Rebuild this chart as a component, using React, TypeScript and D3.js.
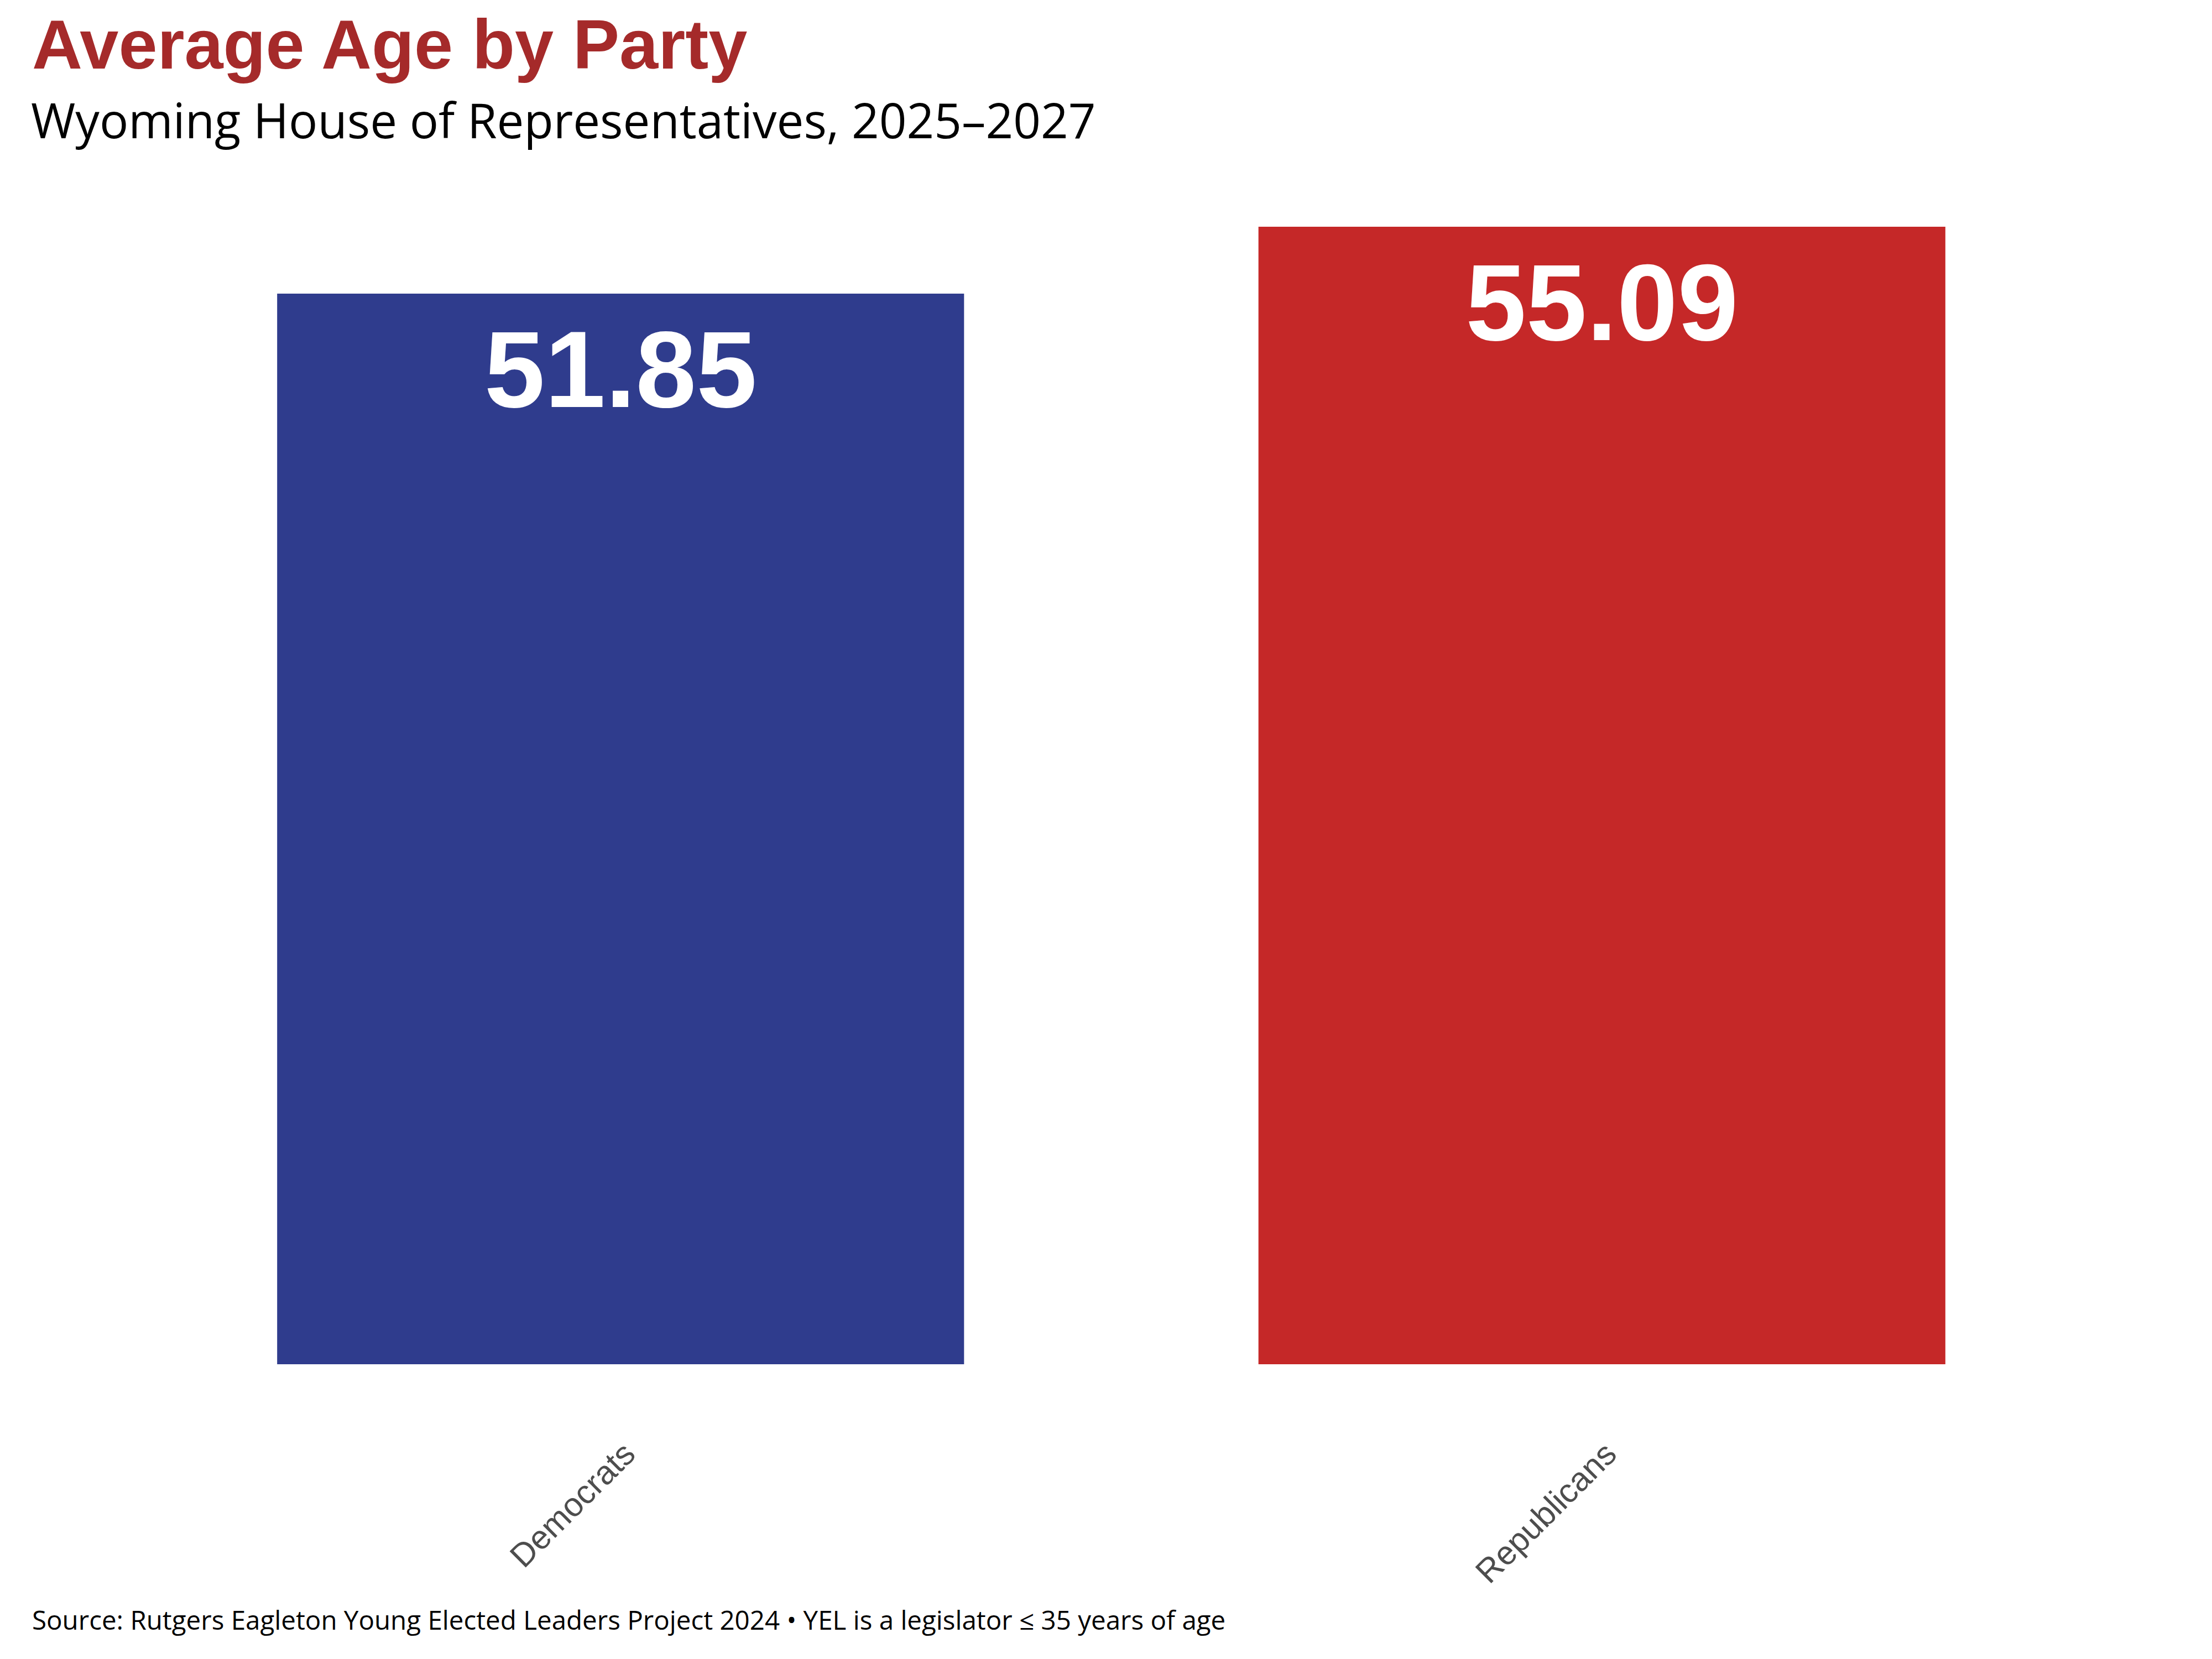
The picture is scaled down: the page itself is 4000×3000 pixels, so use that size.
import React from "react";
import * as d3 from "d3";

const parties = ["Democrats", "Republicans"];
const avgAges = [51.85, 55.09];
const barColors = ["#2F3C8D", "#C52828"];
const titleText = "Average Age by Party";
const subtitleText = "Wyoming House of Representatives, 2025–2027";
const sourceText =
  "Source: Rutgers Eagleton Young Elected Leaders Project 2024 • YEL is a legislator ≤ 35 years of age";

const W = 4000;
const H = 3000;

export default function App() {
  const x = d3
    .scaleBand<string>()
    .domain(parties)
    .range([235, 3784])
    .paddingInner(0.3)
    .paddingOuter(0.15);
  const y = d3.scaleLinear().domain([0, 60]).range([2467, 2467 - 60 * (2057 / 55.09)]);

  return (
    <svg
      width={W}
      height={H}
      viewBox={`0 0 ${W} ${H}`}
      style={{ position: "absolute", left: 0, top: 0, background: "#ffffff" }}
    >
      <rect x={0} y={0} width={W} height={H} fill="#ffffff" />
      <text
        x={58}
        y={124}
        fill="#A52A2A"
        fontFamily="'Liberation Sans', Arial, sans-serif"
        fontWeight="bold"
        fontSize={126}
      >
        {titleText}
      </text>
      <text x={56} y={250} fill="#000000" fontFamily="'Open Sans', sans-serif" fontSize={87}>
        {subtitleText}
      </text>
      {parties.map((p, i) => {
        const x0 = x(p) as number;
        const yTop = y(avgAges[i]);
        const cx = x0 + x.bandwidth() / 2;
        return (
          <g key={p}>
            <rect x={x0} y={yTop} width={x.bandwidth()} height={y(0) - yTop} fill={barColors[i]} />
            <text
              x={cx}
              y={yTop + 205}
              textAnchor="middle"
              fill="#ffffff"
              fontFamily="'Liberation Sans', Arial, sans-serif"
              fontWeight="bold"
              fontSize={197}
            >
              {avgAges[i].toFixed(2)}
            </text>
            <text
              transform={`translate(${cx + 30},${y(0) + 166}) rotate(-45)`}
              textAnchor="end"
              fill="#4D4D4D"
              fontFamily="'Liberation Sans', Arial, sans-serif"
              fontSize={60}
            >
              {p}
            </text>
          </g>
        );
      })}
      <text x={58} y={2947} fill="#000000" fontFamily="'Open Sans', sans-serif" fontSize={47.5}>
        {sourceText}
      </text>
    </svg>
  );
}
